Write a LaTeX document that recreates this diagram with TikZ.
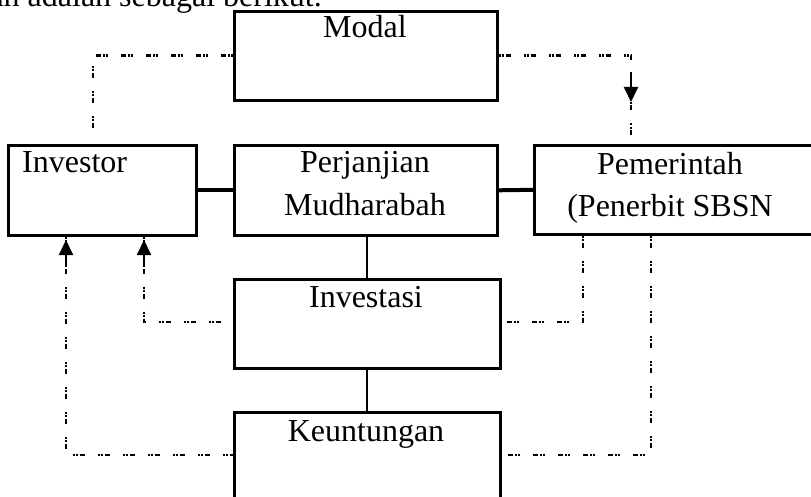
\documentclass[tikz,border=0pt]{standalone}
\usepackage{fontspec}
\setmainfont{Liberation Serif}
\usetikzlibrary{arrows.meta}
\begin{document}
\begin{tikzpicture}[x=1pt,y=-1pt,
  box/.style={draw, line width=2.6pt, inner sep=0pt, anchor=north west},
  lbl/.style={inner sep=0pt, font=\fontsize{32}{42}\selectfont},
  joinline/.style={line width=4pt},
  thinline/.style={line width=2pt},
  dashline/.style={line width=2.6pt, dash pattern={on 2pt off 1.5pt on 2pt off 1.5pt on 5pt off 13pt}},
  arrowline/.style={line width=2pt, -{Triangle[length=15pt,width=14pt]}}]
\useasboundingbox (0,0) rectangle (811,497);
\clip (0,0) rectangle (811,497);

% last line of the preceding paragraph
\node[lbl, anchor=base east] (intro) at (322,7) {an adalah sebagai berikut.};

% boxes
\node[box, minimum width=263pt, minimum height=89pt] (modal) at (233,10) {};
\node[box, minimum width=188pt, minimum height=90pt] (investor) at (7,144) {};
\node[box, minimum width=263pt, minimum height=90pt] (perj) at (233,144) {};
\node[box, minimum width=300pt, minimum height=89pt] (pem) at (533,144) {};
\node[box, minimum width=266pt, minimum height=89pt] (invest) at (233,278) {};
\node[box, minimum width=266pt, minimum height=100pt] (keun) at (233,411) {};

% labels
\node[lbl, anchor=base] (tmodal) at (365,38) {Modal};
\node[lbl, anchor=base west] (tinvestor) at (22,173) {Investor};
\node[lbl, anchor=base] (tperj1) at (365,173) {Perjanjian};
\node[lbl, anchor=base] (tperj2) at (365,215) {Mudharabah};
\node[lbl, anchor=base] (tpem1) at (670,175) {Pemerintah};
\node[lbl, anchor=base] (tpem2) at (670,217) {(Penerbit SBSN};
\node[lbl, anchor=base] (tinvest) at (366,307) {Investasi};
\node[lbl, anchor=base] (tkeun) at (366,441) {Keuntungan};

% solid links
\draw[joinline] (investor.east) -- (perj.west);
\draw[joinline] (perj.east) -- (pem.west);
\draw[thinline] (invest.north |- perj.south) -- (invest.north);
\draw[thinline] (invest.south) -- (keun.north);

% capital flow
\coordinate (c1) at (93,135);
\coordinate (c2) at (631,135);
\draw[dashline] (modal.west) -| (c1);
\draw[dashline] (modal.east) -| (c2);
\coordinate (a2s) at (631,72);
\coordinate (a2e) at (631,102);
\draw[arrowline] (a2s) -- (a2e);

% returns to the investor
\coordinate (k1) at (66,455);
\coordinate (k2) at (144,322);
\coordinate (k3) at (583,322);
\coordinate (k4) at (651,455);
\draw[dashline] (investor.south -| k1) -- (k1) -- (k1 -| keun.west);
\draw[dashline] (investor.south -| k2) -- (k2) -- (k2 -| invest.west);
\draw[dashline] (pem.south -| k3) -- (k3) -- (k3 -| invest.east);
\draw[dashline] (pem.south -| k4) -- (k4) -- (k4 -| keun.east);

\coordinate (b1) at (66,267);
\coordinate (b1t) at (66,240);
\coordinate (b2) at (144,267);
\coordinate (b2t) at (144,240);
\draw[arrowline] (b1) -- (b1t);
\draw[arrowline] (b2) -- (b2t);
\end{tikzpicture}
\end{document}
